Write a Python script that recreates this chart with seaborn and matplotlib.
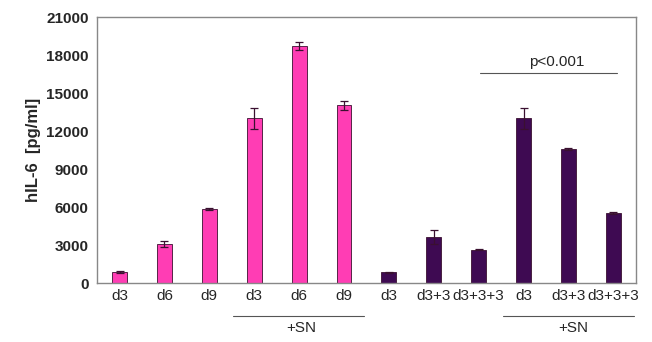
import pandas as pd
import matplotlib
matplotlib.use("Agg")
import matplotlib.pyplot as plt
import seaborn as sns

labels = ["d3", "d6", "d9", "d3", "d6", "d9",
          "d3", "d3+3", "d3+3+3", "d3", "d3+3", "d3+3+3"]
values = [850, 3100, 5850, 13000, 18700, 14050,
          850, 3650, 2650, 13000, 10600, 5550]
errors = [80, 220, 100, 850, 300, 350,
          60, 550, 60, 850, 60, 60]
groups = ["pink"] * 6 + ["dark"] * 6
sn_spans = [(2.53, 5.45, 4.05), (8.54, 11.46, 10.1)]

pink = "#FF3DB4"
dark = "#3E0A52"

df = pd.DataFrame({"pos": range(len(values)), "label": labels,
                   "value": values, "group": groups})

sns.set_style("white")
plt.rcParams["font.family"] = ["Liberation Sans", "DejaVu Sans"]

fig = plt.figure(figsize=(6.52, 3.42), dpi=100)
ax = fig.add_axes([0.149, 0.172, 0.826, 0.778])

sns.barplot(data=df, x="pos", y="value", hue="group",
            palette={"pink": pink, "dark": dark}, dodge=False,
            width=0.33, edgecolor="#3a1030", linewidth=0.6, saturation=1,
            legend=False, errorbar=None, ax=ax)

# error bars centred on the bars
ax.errorbar(df["pos"], df["value"], yerr=errors, fmt="none",
            ecolor="#3a1030", elinewidth=0.9, capsize=3, capthick=0.9)

ax.set_ylim(0, 21000)
ax.set_xlim(-0.5, len(values) - 0.5)
ax.set_yticks(range(0, 21001, 3000))
ax.set_yticklabels([str(v) for v in range(0, 21001, 3000)],
                   fontweight="bold", fontsize=11)
ax.set_xticks(range(len(labels)))
ax.set_xticklabels(labels, fontsize=11)
ax.tick_params(axis="y", length=4, width=0.8, color="#888888", pad=2)
ax.tick_params(axis="x", length=0, pad=4)
ax.set_xlabel("")
ax.set_ylabel("hIL-6  [pg/ml]", fontweight="bold", fontsize=12, labelpad=4)
for s in ax.spines.values():
    s.set_visible(True)
    s.set_color("#888888")
    s.set_linewidth(1.0)

# significance line
ax.plot([8.03, 11.08], [16580, 16580], color="#555555", lw=0.8)
ax.text(9.74, 17450, "p<0.001", ha="center", va="center", fontsize=11)

# +SN group annotations below axis
trans = ax.get_xaxis_transform()
for a, b, mid in sn_spans:
    ax.plot([a, b], [-0.124, -0.124], color="#555555", lw=0.8,
            transform=trans, clip_on=False)
    ax.text(mid, -0.169, "+SN", ha="center", va="center",
            fontsize=11, transform=trans)

fig.savefig("out.png", dpi=100)
